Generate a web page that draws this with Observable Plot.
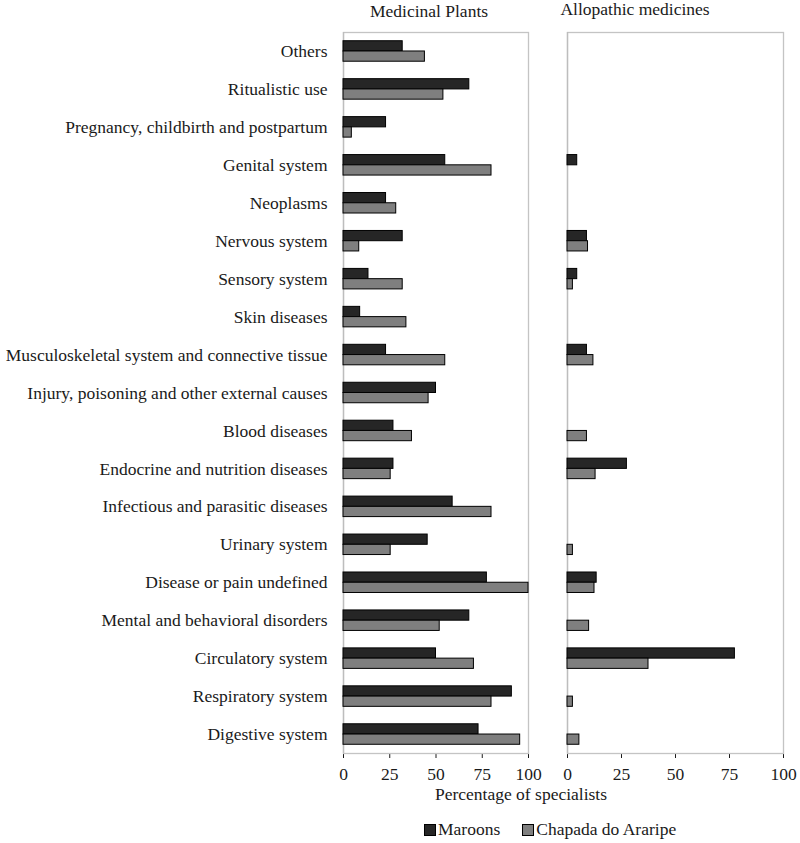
<!DOCTYPE html>
<html>
<head>
<meta charset="utf-8">
<script src="https://cdn.jsdelivr.net/npm/d3@7"></script>
<script src="https://cdn.jsdelivr.net/npm/@observablehq/plot@0.6"></script>
<style>
  body { margin: 0; background: #fff; }
  #wrap { position: relative; width: 800px; height: 843px; font-family: "Liberation Serif", "Times New Roman", serif; color: #1a1a1a; }
  #wrap svg { position: absolute; top: 0; }
  .lbl { position: absolute; font-size: 17.5px; line-height: 1; white-space: nowrap; transform: translateX(-50%); }
  .leg { position: absolute; top: 821px; font-size: 17.5px; line-height: 1; display: flex; align-items: center; white-space: nowrap; }
  .sw { display: inline-block; width: 10px; height: 10px; border: 1px solid #000; margin-right: 2px; }
</style>
</head>
<body>
<div id="wrap"></div>
<script>
const categories = [
  "Others",
  "Ritualistic use",
  "Pregnancy, childbirth and postpartum",
  "Genital system",
  "Neoplasms",
  "Nervous system",
  "Sensory system",
  "Skin diseases",
  "Musculoskeletal system and connective tissue",
  "Injury, poisoning and other external causes",
  "Blood diseases",
  "Endocrine and nutrition diseases",
  "Infectious and parasitic diseases",
  "Urinary system",
  "Disease or pain undefined",
  "Mental and behavioral disorders",
  "Circulatory system",
  "Respiratory system",
  "Digestive system"
];
const series = ["Maroons", "Chapada do Araripe"];
const plantsMaroons  = [32, 68, 23, 55, 23, 32, 13.5, 9, 23, 50, 27, 27, 59, 45.5, 77.5, 68, 50, 91, 73];
const plantsChapada  = [44, 54, 4.5, 80, 28.5, 8.5, 32, 34, 55, 46, 37, 25.5, 80, 25.5, 100, 52, 70.5, 80, 95.5];
const alloMaroons    = [0, 0, 0, 4.5, 0, 9, 4.5, 0, 9, 0, 0, 27.5, 0, 0, 13.5, 0, 77.5, 0, 0];
const alloChapada    = [0, 0, 0, 0, 0, 9.5, 2.5, 0, 12, 0, 9, 13, 0, 2.5, 12.5, 10, 37.5, 2.5, 5.5];
const xTicks = [0, 25, 50, 75, 100];
const panelTitles = ["Medicinal Plants", "Allopathic medicines"];
const xLabel = "Percentage of specialists";
const colors = ["#262626", "#7f7f7f"];

const toRows = (vals) => categories.map((c, i) => ({category: c, value: vals[i]})).filter(d => d.value > 0);

function panel({m, c, width, marginLeft, marginRight, showY}) {
  return Plot.plot({
    width, height: 790,
    marginTop: 32, marginBottom: 37, marginLeft, marginRight,
    style: {fontFamily: '"Liberation Serif", "Times New Roman", serif', fontSize: "17.5px", color: "#1a1a1a", background: "transparent", overflow: "visible"},
    x: {domain: [0, 100], ticks: xTicks, tickSize: 5, tickPadding: 9, label: null, line: true},
    y: {domain: categories, paddingInner: 0.46, paddingOuter: 0.23, round: false, label: null, axis: showY ? "left" : null, tickSize: 0, tickPadding: 16},
    marks: [
      Plot.frame({stroke: "#c4c4c4", strokeWidth: 1.3}),
      Plot.ruleX([0], {stroke: "#bdbdbd", strokeWidth: 1.3}),
      Plot.barX(toRows(m), {x: "value", y: "category", fill: colors[0], stroke: "#000", strokeWidth: 1, insetBottom: 10.25}),
      Plot.barX(toRows(c), {x: "value", y: "category", fill: colors[1], stroke: "#000", strokeWidth: 1, insetTop: 10.25})
    ]
  });
}

const wrap = document.getElementById("wrap");
const p1 = panel({m: plantsMaroons, c: plantsChapada, width: 540, marginLeft: 343, marginRight: 12, showY: true});
p1.style.left = "0px";
wrap.appendChild(p1);
const p2 = panel({m: alloMaroons, c: alloChapada, width: 260, marginLeft: 27, marginRight: 17, showY: false});
p2.style.left = "540px";
wrap.appendChild(p2);

function label(text, x, top) {
  const d = document.createElement("div");
  d.className = "lbl";
  d.textContent = text;
  d.style.left = x + "px";
  d.style.top = top + "px";
  wrap.appendChild(d);
}
label(panelTitles[0], 429, 3);
label(panelTitles[1], 635, 1);
label(xLabel, 521, 786);

const leg = document.createElement("div");
leg.className = "leg";
leg.style.left = "424px";
series.forEach((s, i) => {
  const item = document.createElement("span");
  item.style.display = "inline-flex";
  item.style.alignItems = "center";
  item.style.marginRight = i === 0 ? "22px" : "0";
  const sw = document.createElement("span");
  sw.className = "sw";
  sw.style.background = colors[i];
  item.appendChild(sw);
  item.appendChild(document.createTextNode(s));
  leg.appendChild(item);
});
wrap.appendChild(leg);
</script>
</body>
</html>
